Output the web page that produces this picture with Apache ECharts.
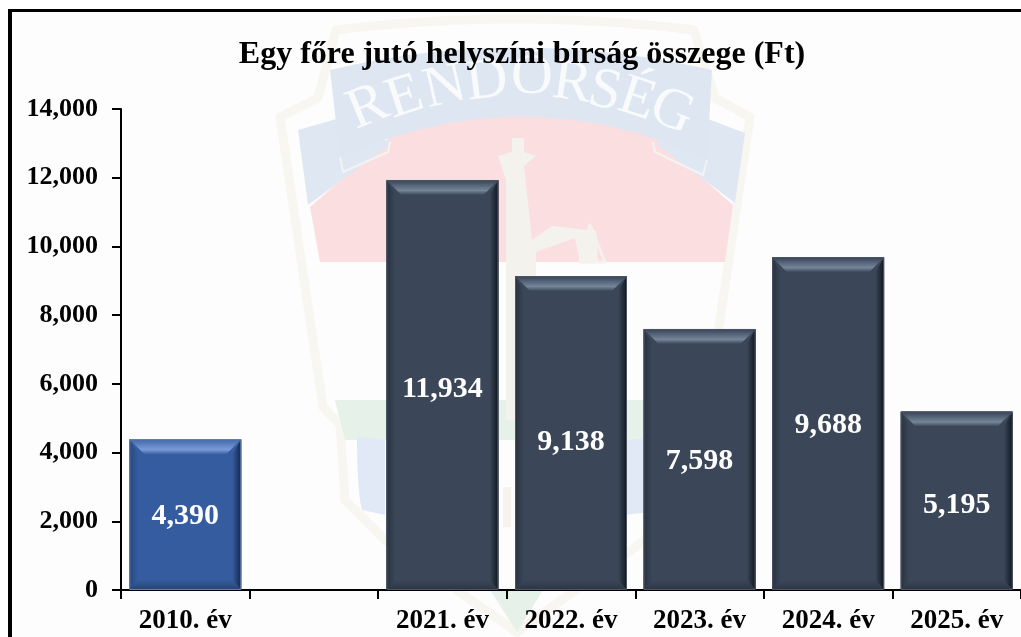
<!DOCTYPE html>
<html>
<head>
<meta charset="utf-8">
<style>html,body{margin:0;padding:0;background:#fff}#c{width:1021px;height:637px}</style>
<script src="https://cdn.jsdelivr.net/npm/echarts@6/dist/echarts.min.js"></script>
</head>
<body>
<div id="c"></div>
<script>
const titleText = 'Egy főre jutó helyszíni bírság összege (Ft)';
const categories = ['2010. év', '', '2021. év', '2022. év', '2023. év', '2024. év', '2025. év'];
const values = [4390, null, 11934, 9138, 7598, 9688, 5195];
const yTicks = { min: 0, max: 14000, interval: 2000 };

const SERIF = '"Liberation Serif","Times New Roman",serif';
const grad = (x, y, x2, y2, stops) => new echarts.graphic.LinearGradient(x, y, x2, y2,
  stops.map(s => ({ offset: s[0], color: s[1] })));

const palettes = {
  blue:  { base: '#345c9f', edge: '#6a82ab', top: ['#3f67a8', '#7a9ad8', '#3a62a5'], left: ['#27497f', '#345c9f'], right: ['#345c9f', '#12254c'], bottom: ['#345c9f', '#27436f'] },
  slate: { base: '#3b4759', edge: '#4a5566', top: ['#364254', '#75859a', '#3b4759'], left: ['#28323f', '#3b4759'], right: ['#3b4759', '#10161f'], bottom: ['#3b4759', '#2b3543'] }
};
const paletteFor = i => i === 0 ? palettes.blue : palettes.slate;
const labelNudge = { 0: 2, 2: 4, 3: 9, 4: 2, 5: 2, 6: 4 };

function bevel(params, api) {
  const i = api.value(0), v = api.value(1);
  const tl = api.coord([i, v]), base = api.coord([i, 0]);
  const w = api.size([1, 0])[0] * 0.871;
  const x0 = tl[0] - w / 2, x1 = tl[0] + w / 2, y0 = tl[1], y1 = base[1];
  const p = paletteFor(i);
  const dT = 15, dS = 9, dB = 10;
  return { type: 'group', children: [
    { type: 'polygon', shape: { points: [[x0, y0], [x0 + dS, y0 + dT], [x0 + dS, y1 - dB], [x0, y1]] },
      style: { fill: grad(0, 0, 1, 0, [[0, p.left[0]], [1, p.left[1]]]) } },
    { type: 'polygon', shape: { points: [[x1, y0], [x1 - dS, y0 + dT], [x1 - dS, y1 - dB], [x1, y1]] },
      style: { fill: grad(1, 0, 0, 0, [[0, p.right[1]], [1, p.right[0]]]) } },
    { type: 'polygon', shape: { points: [[x0, y1], [x0 + dS, y1 - dB], [x1 - dS, y1 - dB], [x1, y1]] },
      style: { fill: grad(0, 0, 0, 1, [[0, p.bottom[0]], [1, p.bottom[1]]]) } },
    { type: 'polygon', shape: { points: [[x0, y0], [x0 + 15, y0 + dT], [x1 - 15, y0 + dT], [x1, y0]] },
      style: { fill: grad(0, 0, 0, 1, [[0, p.top[0]], [0.7, p.top[1]], [1, p.top[2]]]) } },
    { type: 'rect', shape: { x: x0 + 0.5, y: y0 + 0.5, width: w - 1, height: y1 - y0 - 1 },
      style: { fill: 'none', stroke: p.edge, lineWidth: 1 } }
  ] };
}

// Background emblem: small M/L/Q/Z outline reader producing plain polygons.
function outline(d) {
  const t = d.trim().split(/\s+/);
  const pts = [];
  let i = 0, closed = false;
  const num = () => Number(t[i++]);
  while (i < t.length) {
    const tok = t[i];
    const c = tok[0];
    if (c === 'Z') { closed = true; i++; continue; }
    if (/[MLQ]/.test(c)) { t[i] = tok.slice(1); if (t[i] === '') i++; }
    if (c === 'Q') {
      const cx = num(), cy = num(), ex = num(), ey = num();
      const [sx, sy] = pts[pts.length - 1];
      for (let k = 1; k <= 24; k++) {
        const u = k / 24;
        pts.push([(1 - u) * (1 - u) * sx + 2 * u * (1 - u) * cx + u * u * ex,
                  (1 - u) * (1 - u) * sy + 2 * u * (1 - u) * cy + u * u * ey]);
      }
    } else {
      pts.push([num(), num()]);
    }
  }
  return { pts, closed };
}
const wm = (d, fill, stroke, lw) => {
  const o = outline(d);
  return { type: fill ? 'polygon' : (o.closed ? 'polygon' : 'polyline'), silent: true, z: -5,
    shape: { points: o.pts },
    style: { fill: fill || 'none', stroke: stroke || 'none', lineWidth: lw || 0, lineJoin: 'round' } };
};
const letter = (t, x, y, deg) => ({ type: 'text', silent: true, z: -3, x, y, rotation: deg * Math.PI / 180,
  style: { text: t, fill: '#f8fafc', font: '58px ' + SERIF, align: 'center', verticalAlign: 'middle' } });

const watermark = [
  { type: 'rect', silent: true, z: -10, shape: { x: 12, y: 11, width: 1010, height: 627 }, style: { fill: '#fdfdfd' } },
  { type: 'rect', silent: true, z: 10, shape: { x: 8, y: 9, width: 1013, height: 3 }, style: { fill: '#000' } },
  { type: 'rect', silent: true, z: 10, shape: { x: 8, y: 9, width: 4, height: 628 }, style: { fill: '#000' } },
  // shield outline
  wm('M280 117 L318 98 L336 30 Q515 8 694 30 L715 98 L750 117 L717 340 L707 407 L690 425 L685 500 L645 540 L517 632 L385 540 L345 500 L340 425 L323 407 L313 340 Z', null, '#f8f6f1', 9),
  // field colours
  wm('M310 207 L392 135 Q527 70 653 135 L733 205 L725 262 L320 262 Z', '#fbdfe0'),
  wm('M335 400 L695 400 L688 440 L345 440 Z', '#e6f1ea'),
  wm('M490 590 L543 590 L517 632 Z', '#e6f1ea'),
  wm('M357 437 L385 440 L385 515 L362 510 Q357 490 357 437 Z', '#e0e9f5'),
  wm('M625 440 L672 437 L668 510 L625 515 Z', '#e0e9f5'),
  // ribbon
  wm('M298 130 L340 118 L392 143 L308 205 Z', '#dfe7f2'),
  wm('M745 133 L705 118 L655 143 L735 203 Z', '#dfe7f2'),
  wm('M330 70 Q515 25 712 70 L707 160 Q527 75 340 157 Z', '#dde6f1'),
  wm('M340 157 L343 172 L388 152 L390 142', null, '#f2f3f3', 2),
  wm('M707 160 L703 175 L655 152 L653 142', null, '#f2f3f3', 2),
  // central cross and scales
  wm('M512 138 L524 138 L524 152 L536 156 L524 166 L532 240 L552 226 L596 231 L598 262 L580 262 L575 238 L536 252 L536 420 L506 420 L506 180 L498 156 L512 152 Z', '#f4f2ec'),
  wm('M580 262 L590 225 L605 262 Z', null, '#f4f2ec', 3),
  { type: 'rect', silent: true, z: -4, shape: { x: 503, y: 487, width: 8, height: 40 }, style: { fill: '#f5f3ec' } },
  // curved motto
  letter('R', 368, 108, 22), letter('E', 405, 98, 18), letter('N', 445, 88, 13), letter('D', 487, 82, 7),
  letter('Ö', 532, 78, 0), letter('R', 572, 84, -8), letter('S', 605, 92, -13), letter('É', 637, 100, -18), letter('G', 672, 112, -23)
];

const chart = echarts.init(document.getElementById('c'), null, { renderer: 'canvas' });
chart.setOption({
  animation: false,
  backgroundColor: '#ffffff',
  title: { text: titleText, left: 517, top: 32, textAlign: 'center',
    textStyle: { fontFamily: SERIF, fontWeight: 'bold', fontSize: 32, color: '#000', lineHeight: 36 } },
  grid: { left: 121, right: 0, top: 109, bottom: 47, containLabel: false },
  graphic: watermark,
  xAxis: {
    type: 'category', data: categories, boundaryGap: true,
    axisLine: { show: true, onZero: false, lineStyle: { color: '#000', width: 2 } },
    axisTick: { show: true, length: 9, lineStyle: { color: '#000', width: 2 } },
    axisLabel: { show: true, interval: 0, margin: 18, fontFamily: SERIF, fontWeight: 'bold', fontSize: 27, color: '#000' },
    splitLine: { show: false }
  },
  yAxis: {
    type: 'value', min: yTicks.min, max: yTicks.max, interval: yTicks.interval,
    axisLine: { show: true, lineStyle: { color: '#000', width: 2 } },
    axisTick: { show: true, length: 9, lineStyle: { color: '#000', width: 2 } },
    axisLabel: { margin: 23, padding: [5, 0, 0, 0], fontFamily: SERIF, fontWeight: 'bold', fontSize: 26, color: '#000',
      formatter: v => v.toLocaleString('en-US') },
    splitLine: { show: false }
  },
  series: [
    {
      type: 'bar', barWidth: '87.1%', z: 2,
      data: values.map((v, i) => v == null ? null : ({
        value: v,
        itemStyle: { color: paletteFor(i).base },
        label: { offset: [0, labelNudge[i] || 0] }
      })),
      label: { show: true, position: 'inside', color: '#fff', fontFamily: SERIF, fontWeight: 'bold', fontSize: 30,
        formatter: p => p.value.toLocaleString('en-US') }
    },
    {
      type: 'custom', z: 3, silent: true, renderItem: bevel, clip: false,
      encode: { x: 0, y: 1 },
      data: values.map((v, i) => [i, v]).filter(d => d[1] != null)
    }
  ]
});
</script>
</body>
</html>
